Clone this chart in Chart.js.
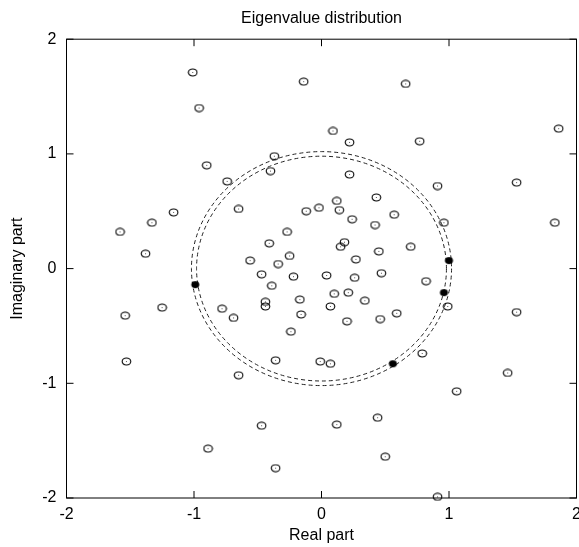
<!DOCTYPE html>
<html>
<head>
<meta charset="utf-8">
<title>Eigenvalue distribution</title>
<script src="https://cdn.jsdelivr.net/npm/chart.js@4"></script>
<style>
  body { margin: 0; background: #fff; }
  canvas { display: block; }
</style>
</head>
<body>
<canvas id="eig-chart" width="579" height="547"></canvas>
<script>
// Eigenvalues (real part, imaginary part)
const openRe = [
  -1.01, -0.14, -0.96, -0.37, -0.40, -0.90, -0.74, -0.65, -0.12, -0.02,
  -1.16, -1.33, -1.58, -0.27, -0.41, -1.38, -0.25, -0.56, -0.34, 0.66,
  1.86, 0.09, 0.77, 0.22, 0.22, 0.91, 1.53, 0.43, 0.12, 0.14,
  0.57, 0.24, 0.42, 0.96, 1.83, 0.18, 0.15, 0.45, 0.70, 0.27,
  -0.47, -0.22, -0.39, -0.44, -0.44, -0.17, -0.16, -0.24, -0.78, -0.69,
  -1.25, -1.54, -1.53, -0.36, -0.01, -0.65, -0.47, -0.89, -0.36, 0.04,
  0.26, 0.47, 0.82, 0.99, 1.53, 0.10, 0.21, 0.34, 0.07, 0.20,
  0.46, 0.59, 0.07, 0.79, 1.46, 1.06, 0.44, 0.12, 0.50, 0.91,
];
const openIm = [
  1.71, 1.63, 1.40, 0.98, 0.85, 0.90, 0.76, 0.52, 0.50, 0.53,
  0.49, 0.40, 0.32, 0.32, 0.22, 0.13, 0.11, 0.07, 0.04, 1.61,
  1.22, 1.20, 1.11, 1.10, 0.82, 0.72, 0.75, 0.62, 0.59, 0.51,
  0.47, 0.43, 0.38, 0.40, 0.40, 0.23, 0.19, 0.15, 0.19, 0.08,
  -0.05, -0.07, -0.15, -0.29, -0.33, -0.27, -0.40, -0.55, -0.35, -0.43,
  -0.34, -0.41, -0.81, -0.80, -0.81, -0.93, -1.37, -1.57, -1.74, -0.06,
  -0.08, -0.04, -0.11, -0.33, -0.38, -0.22, -0.21, -0.28, -0.33, -0.46,
  -0.44, -0.39, -0.83, -0.74, -0.91, -1.07, -1.30, -1.36, -1.64, -1.99,
];
// highlighted eigenvalues sitting on the unit circle
const filledRe = [1.00, -0.99, 0.96, 0.56];
const filledIm = [0.07, -0.14, -0.21, -0.83];
// dashed reference circles (radius in data units)
const circleRadii = [0.98, 1.02];
const axisTicks = [-2, -1, 0, 1, 2];

const FONT = 'Liberation Sans, Arial, Helvetica, sans-serif';

// Build small canvases used as point markers
function makeMarker(filled) {
    const c = document.createElement('canvas');
    c.width = 11;
    c.height = 9;
    const g = c.getContext('2d');
    g.beginPath();
    g.ellipse(5.5, 4.5, filled ? 4 : 4.3, filled ? 3.4 : 3.5, 0, 0, Math.PI * 2);
    if (filled) {
        g.fillStyle = '#000';
        g.fill();
    } else {
        g.strokeStyle = '#000';
        g.lineWidth = 1.1;
        g.stroke();
        g.fillStyle = '#555';
        g.fillRect(5, 4, 1, 1);
    }
    return c;
}

function toPoints(xs, ys) {
    return xs.map((x, i) => ({ x: x, y: ys[i] }));
}

// Dashed circles, frame and inward ticks drawn through the chart scales
const decorations = {
    id: 'decorations',
    beforeDatasetsDraw(chart) {
        const { ctx, scales: { x, y } } = chart;
        const cx = x.getPixelForValue(0);
        const cy = y.getPixelForValue(0);
        ctx.save();
        ctx.strokeStyle = '#222';
        ctx.lineWidth = 1;
        ctx.setLineDash([4, 3]);
        circleRadii.forEach((r) => {
            const rx = Math.abs(x.getPixelForValue(r) - cx);
            const ry = Math.abs(y.getPixelForValue(r) - cy);
            ctx.beginPath();
            ctx.ellipse(cx, cy, rx, ry, 0, 0, Math.PI * 2);
            ctx.stroke();
        });
        ctx.restore();
    },
    afterDraw(chart) {
        const { ctx, chartArea: a, scales: { x, y } } = chart;
        const len = 7;
        ctx.save();
        ctx.strokeStyle = '#000';
        ctx.lineWidth = 1;
        ctx.strokeRect(a.left, a.top, a.right - a.left, a.bottom - a.top);
        ctx.beginPath();
        axisTicks.forEach((v) => {
            const px = x.getPixelForValue(v);
            ctx.moveTo(px, a.bottom);
            ctx.lineTo(px, a.bottom - len);
            ctx.moveTo(px, a.top);
            ctx.lineTo(px, a.top + len);
            const py = y.getPixelForValue(v);
            ctx.moveTo(a.left, py);
            ctx.lineTo(a.left + len, py);
            ctx.moveTo(a.right, py);
            ctx.lineTo(a.right - len, py);
        });
        ctx.stroke();
        ctx.restore();
    },
};

const ctx = document.getElementById('eig-chart').getContext('2d');
new Chart(ctx, {
    type: 'scatter',
    data: {
        datasets: [
            {
                label: 'eigenvalues',
                data: toPoints(openRe, openIm),
                pointStyle: makeMarker(false),
                clip: false,
            },
            {
                label: 'on circle',
                data: toPoints(filledRe, filledIm),
                pointStyle: makeMarker(true),
                clip: false,
            },
        ],
    },
    options: {
        responsive: false,
        animation: false,
        layout: {
            // fixed plot frame; the "2" tick label is allowed to run off the edge
            autoPadding: false,
            padding: { left: 0, right: 2.5, top: 0, bottom: 0 },
        },
        plugins: {
            legend: { display: false },
            tooltip: { enabled: false },
            title: {
                display: true,
                text: 'Eigenvalue distribution',
                color: '#000',
                fullSize: false,
                font: { family: FONT, size: 16, weight: 'normal' },
                padding: { top: 9, bottom: 11 },
            },
        },
        scales: {
            x: {
                type: 'linear',
                min: -2,
                max: 2,
                afterBuildTicks: (scale) => {
                    scale.ticks = axisTicks.map((v) => ({ value: v }));
                },
                afterFit: (scale) => {
                    scale.height = 49;
                    scale.paddingLeft = 0;
                    scale.paddingRight = 0;
                },
                grid: { display: false, drawTicks: false },
                border: { display: false },
                ticks: {
                    color: '#000',
                    padding: 7,
                    maxRotation: 0,
                    font: { family: FONT, size: 16 },
                },
                title: {
                    display: true,
                    text: 'Real part',
                    color: '#000',
                    font: { family: FONT, size: 16 },
                    padding: { top: 0, bottom: 2 },
                },
            },
            y: {
                type: 'linear',
                min: -2,
                max: 2,
                afterBuildTicks: (scale) => {
                    scale.ticks = axisTicks.map((v) => ({ value: v }));
                },
                afterFit: (scale) => {
                    scale.width = 66.5;
                    scale.paddingTop = 0;
                    scale.paddingBottom = 0;
                },
                grid: { display: false, drawTicks: false },
                border: { display: false },
                ticks: {
                    color: '#000',
                    padding: 10,
                    font: { family: FONT, size: 16 },
                },
                title: {
                    display: true,
                    text: 'Imaginary part',
                    color: '#000',
                    font: { family: FONT, size: 16 },
                    padding: { top: 8, bottom: 0 },
                },
            },
        },
    },
    plugins: [decorations],
});
</script>
</body>
</html>
